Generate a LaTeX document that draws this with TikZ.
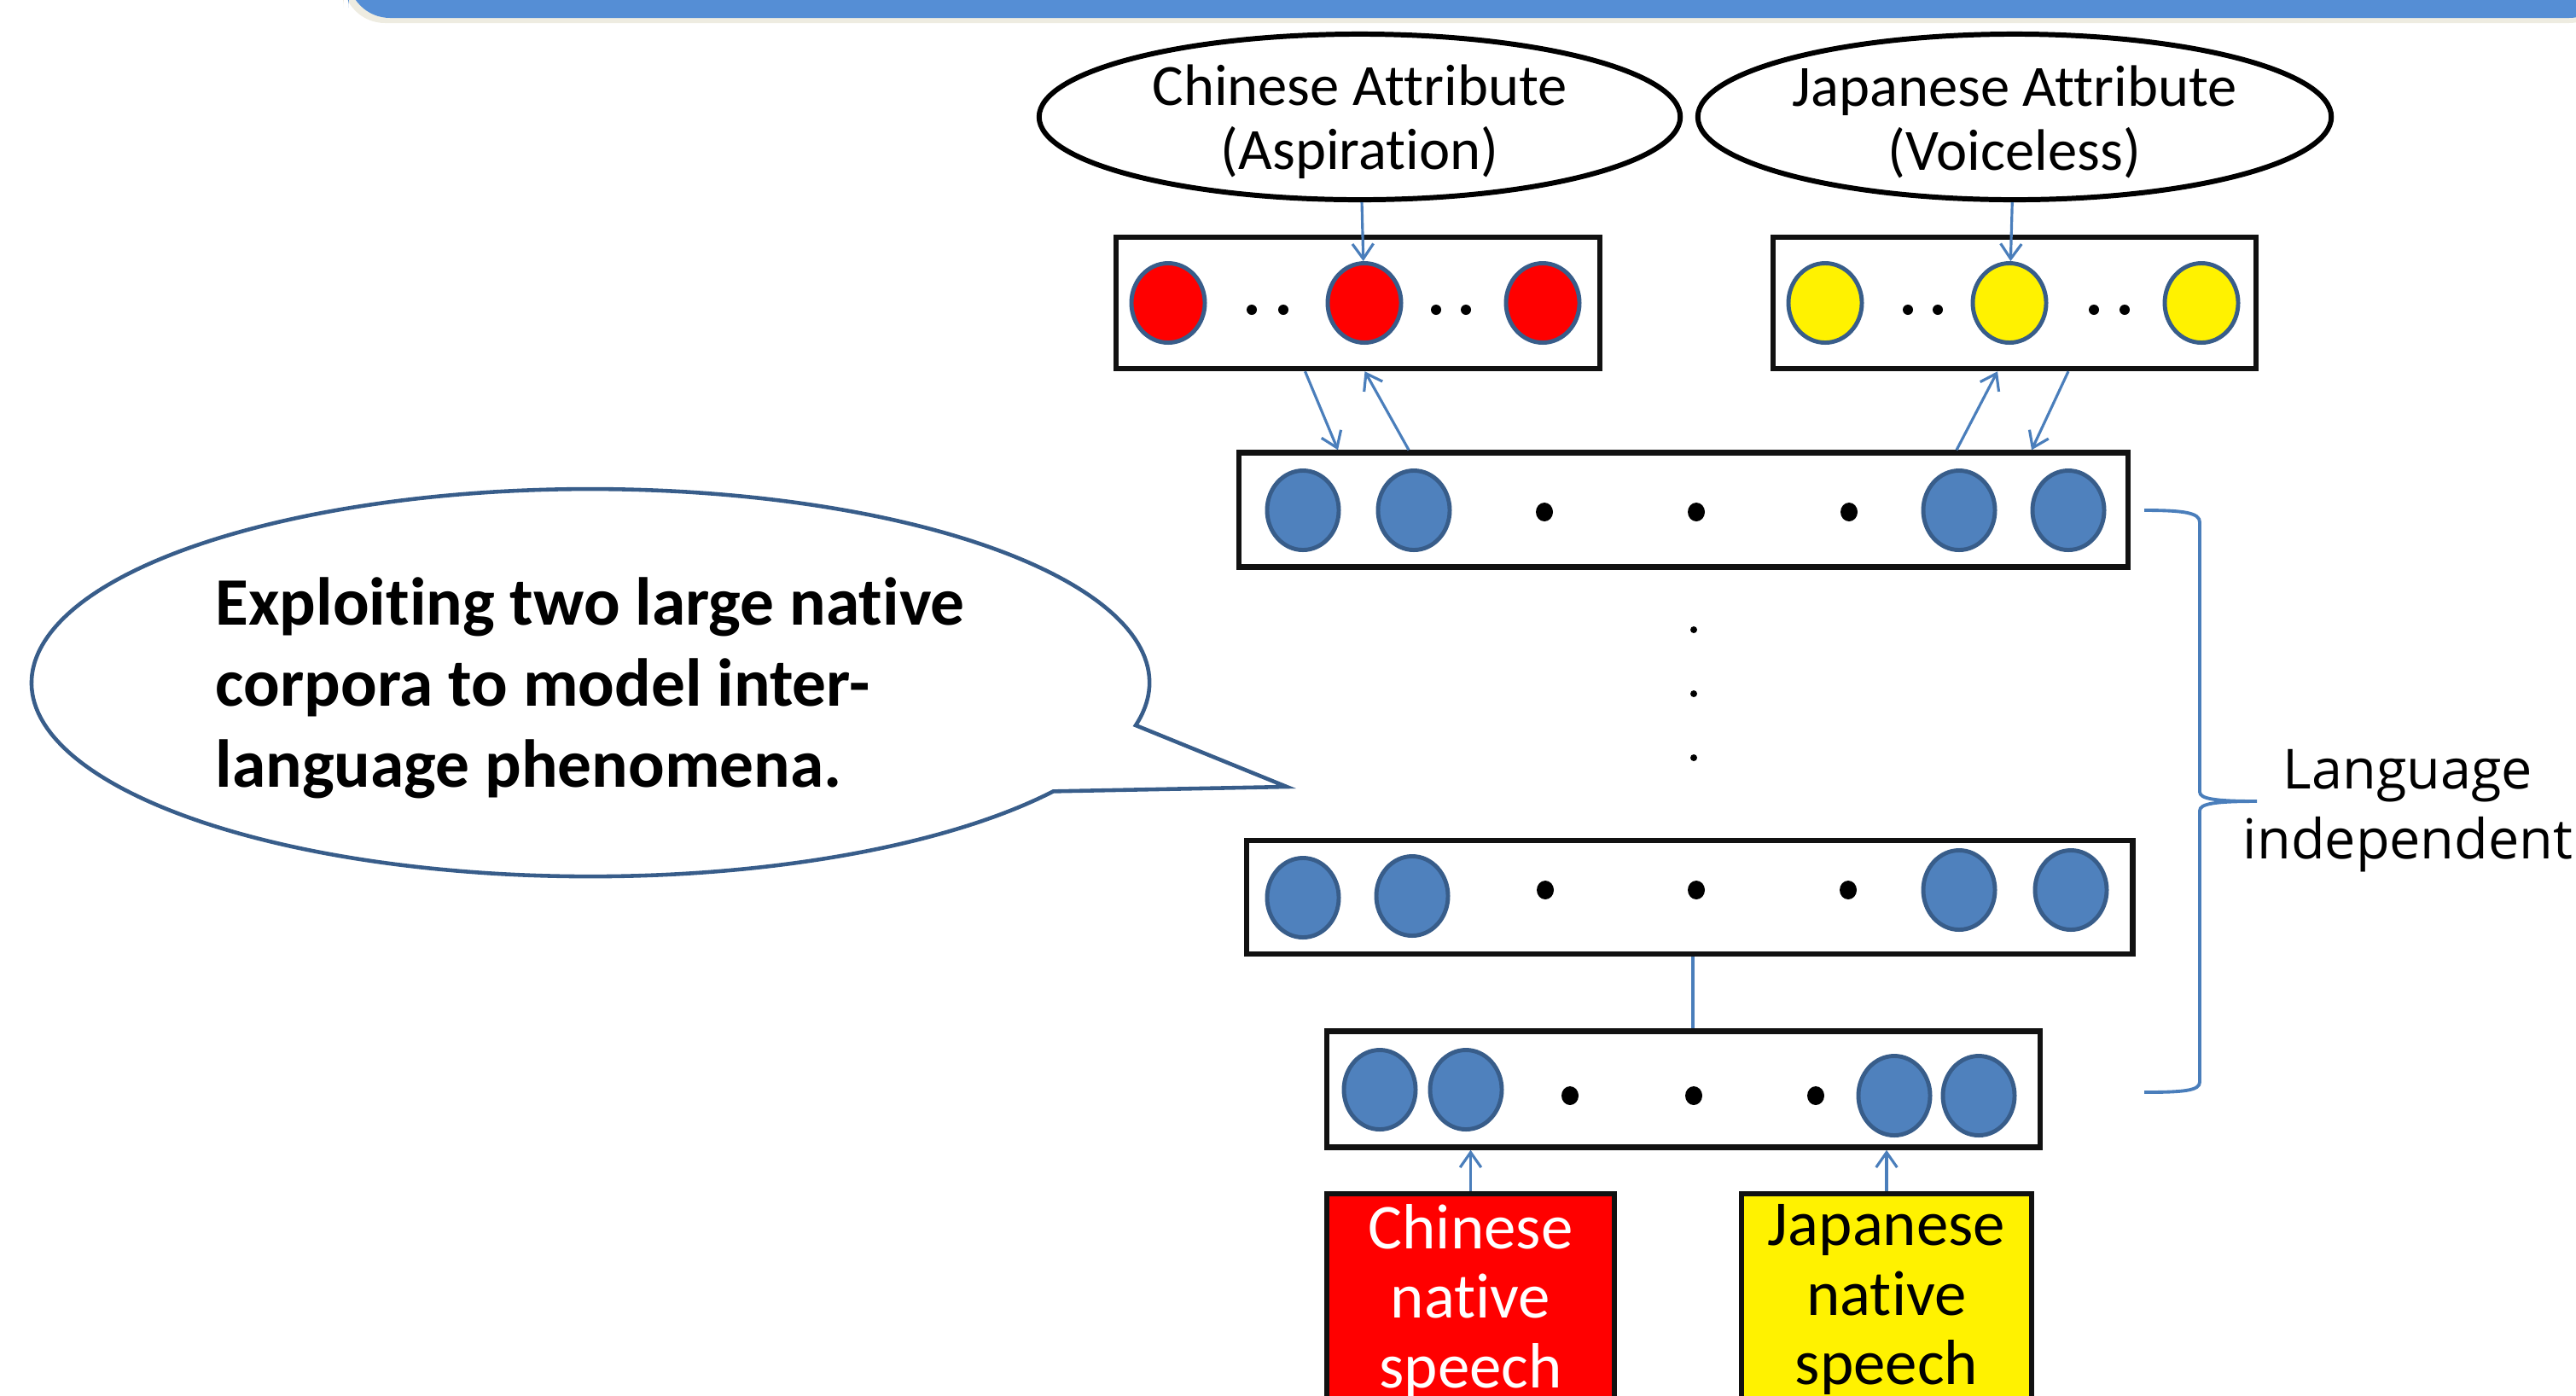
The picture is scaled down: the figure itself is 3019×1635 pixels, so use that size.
\documentclass[tikz,border=0pt]{standalone}
\usepackage{fontspec}
\setmainfont{Carlito}[Ligatures=NoCommon]
\newfontfamily\langfont{Open Sans}
\usetikzlibrary{shapes.geometric,arrows.meta,calc}
\definecolor{nfill}{HTML}{4F81BD}
\definecolor{nedge}{HTML}{385D8A}
\definecolor{conn}{HTML}{4A7EBB}
\definecolor{bannerblue}{HTML}{558ED5}
\definecolor{bshadow}{HTML}{EEECE1}
\definecolor{boxline}{HTML}{111111}
\begin{document}
\begin{tikzpicture}[x=0.01cm,y=-0.01cm,
  attr/.style={ellipse, draw=black, line width=1.7pt, fill=white,
    inner sep=0pt, minimum height=1.94cm},
  attrtext/.style={align=center, inner sep=0pt, font=\fontsize{19.5}{21.3}\selectfont},
  layer/.style={rectangle, draw=boxline, line width=1.8pt, inner sep=0pt},
  neuron/.style={ellipse, draw=nedge, line width=1.4pt, fill=nfill,
    minimum width=0.84cm, minimum height=0.93cm, inner sep=0pt},
  rneuron/.style={neuron, fill=red, minimum width=0.86cm, minimum height=0.93cm},
  yneuron/.style={neuron, fill=yellow, minimum width=0.86cm, minimum height=0.93cm},
  arr/.style={draw=conn, line width=0.9pt, -{Straight Barb[length=5pt,width=7pt]}},
  link/.style={draw=conn, line width=0.9pt},
  spbox/.style={rectangle, draw=boxline, line width=1.7pt, anchor=north, align=center,
    inner xsep=0pt, inner ysep=0.12cm, font=\fontsize{21.3}{23.3}\selectfont},
  bigdot/.style={fill=black},
]
\path[use as bounding box] (0,0) rectangle (3019,1635);
\clip (0,0) rectangle (3019,1635);

% banner
\fill[bshadow, rounded corners=14] (402,-40) rectangle (3060,27);
\fill[bannerblue, rounded corners=14] (408,-40) rectangle (3060,21);

% speech bubble
\draw[draw=nedge, line width=1.3pt, fill=white]
  (1331,850) arc[start angle=12.7, end angle=-325.9, x radius=655, y radius=227]
  -- (1508,922) -- cycle;
\node[anchor=north west, align=left, inner sep=0pt,
  font=\bfseries\fontsize{22.6}{27}\selectfont] (note) at (252,676)
  {Exploiting two large native\\corpora to model inter-\\language phenomena.};

% attribute ellipses
\node[attr, minimum width=7.51cm] (ce) at (1593.5,137) {};
\node[attrtext] (cet) at ($(ce)+(0,6)$) {Chinese Attribute\\(Aspiration)};
\node[attr, minimum width=7.42cm] (je) at (2361,137) {};
\node[attrtext] (jet) at ($(je)+(0,6)$) {Japanese Attribute\\(Voiceless)};

% attribute layers
\node[layer, minimum width=5.67cm, minimum height=1.54cm] (rbox) at (1591.5,355) {};
\node[layer, minimum width=5.66cm, minimum height=1.54cm] (ybox) at (2361,355) {};
\node[rneuron] (rc1) at (1369,355) {};
\node[rneuron] (rc2) at (1599,355) {};
\node[rneuron] (rc3) at (1808,355) {};
\node[yneuron] (yc1) at (2139,355) {};
\node[yneuron] (yc2) at (2355,355) {};
\node[yneuron] (yc3) at (2580,355) {};
\foreach \x in {1467,1504,1683,1718,2236,2271,2454,2490}
  \fill[bigdot] (\x,363) ellipse [x radius=6, y radius=6];

% hidden layer 1
\node[layer, minimum width=10.41cm, minimum height=1.34cm] (l1) at (1973,597.5) {};
\node[neuron] (h11) at (1527,598) {};
\node[neuron] (h12) at (1657,598) {};
\node[neuron] (h13) at (2296,598) {};
\node[neuron] (h14) at (2424,598) {};
\foreach \x in {1810,1988,2167}
  \fill[bigdot] (\x,600) ellipse [x radius=10, y radius=11];

% vertical dots
\foreach \y in {738,813,888}
  \fill[bigdot] (1985,\y) circle [radius=4];

% hidden layer 2
\node[layer, minimum width=10.38cm, minimum height=1.33cm] (l2) at (1980,1051.5) {};
\node[neuron] (h21) at (1527,1052) {};
\node[neuron] (h22) at (1655,1050) {};
\node[neuron] (h23) at (2296,1043) {};
\node[neuron] (h24) at (2427,1043) {};
\foreach \x in {1811,1988,2166}
  \fill[bigdot] (\x,1043) ellipse [x radius=10, y radius=11];

% hidden layer 3
\node[layer, minimum width=8.35cm, minimum height=1.36cm] (l3) at (1973,1276.5) {};
\node[neuron] (h31) at (1617,1277) {};
\node[neuron] (h32) at (1718,1277) {};
\node[neuron] (h33) at (2220,1284) {};
\node[neuron] (h34) at (2319,1284) {};
\foreach \x in {1840,1985,2128}
  \fill[bigdot] (\x,1284) ellipse [x radius=10, y radius=11];

% input boxes
\node[spbox, fill=red, text=white, minimum width=3.37cm] (cs) at (1723.5,1396) {Chinese\\native\\speech};
\node[spbox, fill=yellow, text=black, minimum width=3.40cm] (js) at (2211,1396) {Japanese\\native\\speech};

% connectors
\draw[arr] (ce) -- (rc2);
\draw[arr] (je) -- (yc2);
\draw[arr] ($(rbox.south)+(-62,0)$) -- ($(l1.north)+(-405,0)$);
\draw[arr] ($(l1.north)+(-322,0)$) -- ($(rbox.south)+(8,0)$);
\draw[arr] ($(l1.north)+(320,0)$) -- ($(ybox.south)+(-20,0)$);
\draw[arr] ($(ybox.south)+(63,0)$) -- ($(l1.north)+(408,0)$);
\draw[link] ($(l2.south)+(4,0)$) -- ($(l3.north)+(11,0)$);
\draw[arr] (cs.north) -- (cs.north |- l3.south);
\draw[arr] (js.north) -- (js.north |- l3.south);

% brace
\draw[draw=conn, line width=1.1pt]
  (2513,598) .. controls (2560,598) and (2578,601) .. (2578,612)
  -- (2578,928) .. controls (2578,936) and (2595,939) .. (2645,939)
  .. controls (2595,939) and (2578,942) .. (2578,950)
  -- (2578,1268) .. controls (2578,1278) and (2560,1280) .. (2513,1280);
\node[align=center, inner sep=0pt, font=\langfont\fontsize{18.4}{23.3}\selectfont] (lang) at (2822,950) {Language\\independent};
\end{tikzpicture}
\end{document}
